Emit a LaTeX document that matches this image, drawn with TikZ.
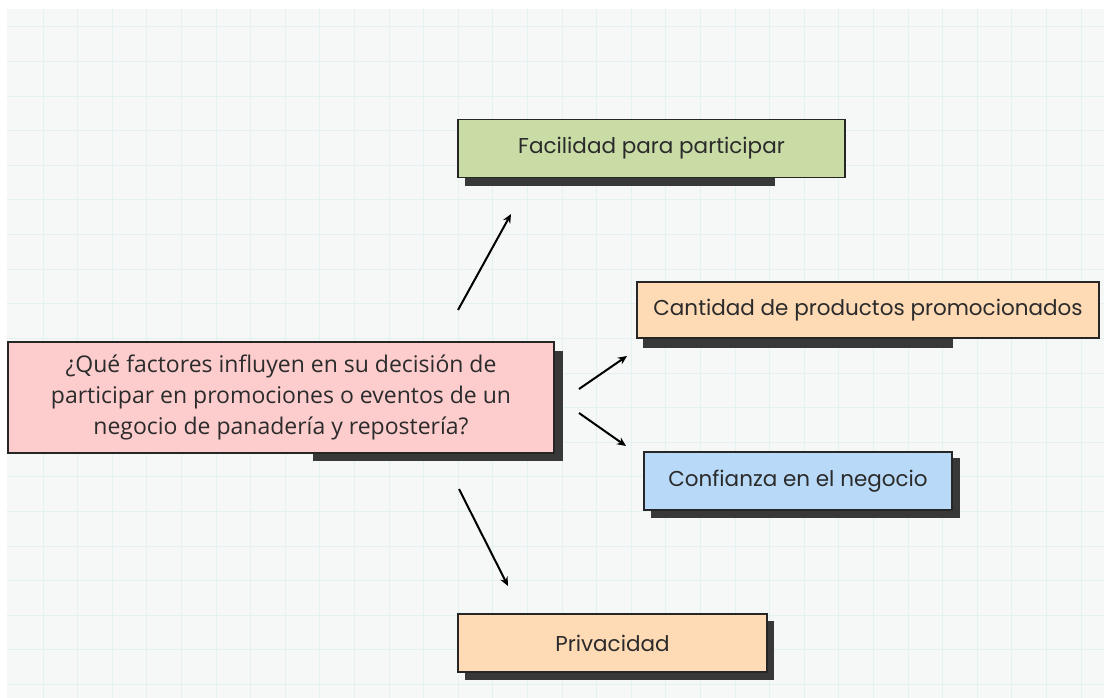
\documentclass[tikz,border=0pt]{standalone}
\usepackage{fontspec}
\setmainfont{Open Sans}
\newfontfamily\popfont{Poppins}
\usetikzlibrary{arrows.meta}

\definecolor{fondo}{HTML}{F6F7F7}
\definecolor{cuadro}{HTML}{E3F1F1}
\definecolor{rosa}{HTML}{FDCDCD}
\definecolor{verde}{HTML}{C9DCA6}
\definecolor{durazno}{HTML}{FEDAB5}
\definecolor{celeste}{HTML}{B8DAF8}
\definecolor{sombra}{HTML}{383838}
\definecolor{borde}{HTML}{262626}
\definecolor{texto}{HTML}{2B2B2B}

\begin{document}
\begin{tikzpicture}[x=1pt,y=-1pt,
  caja/.style={draw=borde, line width=1.5pt, inner sep=0pt, text=texto},
  opcion/.style={caja, minimum height=58pt, font=\popfont\fontsize{21.5}{26}\selectfont},
  flecha/.style={-{Stealth[length=9pt,width=8pt]}, line width=2pt}]

  \useasboundingbox (0,0) rectangle (1104,698);

  % Fondo
  \fill[white] (0,0) rectangle (1104,698);
  \fill[fondo] (7,9) rectangle (1104,698);
  \foreach \i in {0,...,31}
    \draw[cuadro, line width=1pt] ({43+34.6*\i},9) -- ({43+34.6*\i},698);
  \foreach \j in {0,...,19}
    \draw[cuadro, line width=1pt] (7,{27+34.6*\j}) -- (1104,{27+34.6*\j});

  % Sombras
  \fill[sombra] (313,351) rectangle (563,461);
  \fill[sombra] (465,127) rectangle (775,186);
  \fill[sombra] (643,290) rectangle (953,348);
  \fill[sombra] (651,458) rectangle (960,518);
  \fill[sombra] (465,621) rectangle (774,680);

  % Nodos
  \node[caja, fill=rosa, minimum width=546pt, minimum height=111pt, align=center,
        font=\fontsize{23}{31}\selectfont] (pregunta) at (281,397.5)
        {¿Qué factores influyen en su decisión de\\participar en promociones o eventos de un\\negocio de panadería y repostería?};
  \node[opcion, fill=verde, minimum width=387pt] (facilidad) at (651.5,148.5) {Facilidad para participar};
  \node[opcion, fill=durazno, minimum width=462pt, minimum height=56pt] (cantidad) at (868,310) {Cantidad de productos promocionados};
  \node[opcion, fill=celeste, minimum width=308pt] (confianza) at (798,481) {Confianza en el negocio};
  \node[opcion, fill=durazno, minimum width=309pt] (privacidad) at (612.5,643) {Privacidad};

  % Flechas
  \coordinate (arr-a) at (458,310);
  \coordinate (arr-b) at (511,214);
  \coordinate (der1-a) at (579,389);
  \coordinate (der1-b) at (627,356);
  \coordinate (der2-a) at (579,413);
  \coordinate (der2-b) at (626,446);
  \coordinate (aba-a) at (459,489);
  \coordinate (aba-b) at (508,586);

  \draw[flecha] (arr-a) -- (arr-b);
  \draw[flecha] (der1-a) -- (der1-b);
  \draw[flecha] (der2-a) -- (der2-b);
  \draw[flecha] (aba-a) -- (aba-b);

\end{tikzpicture}
\end{document}
